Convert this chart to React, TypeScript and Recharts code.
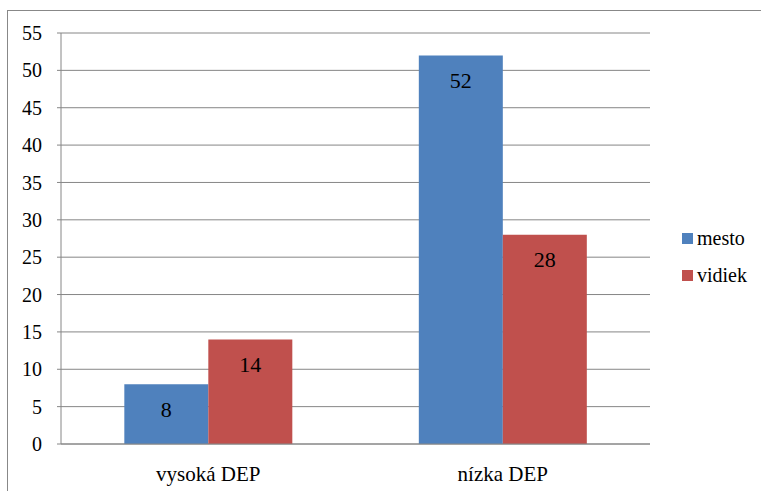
import React from "react";
import { BarChart, Bar, XAxis, YAxis, CartesianGrid, LabelList } from "recharts";

const categories = ["vysoká DEP", "nízka DEP"];
const mesto = [8, 52];
const vidiek = [14, 28];
const yTicks = [0, 5, 10, 15, 20, 25, 30, 35, 40, 45, 50, 55];
const seriesNames = ["mesto", "vidiek"];

const data = categories.map((c, i) => ({ name: c, mesto: mesto[i], vidiek: vidiek[i] }));

const FONT = "Liberation Serif, DejaVu Serif, Tinos, Times New Roman, serif";
const BLUE = "#4F81BD";
const RED = "#C0504D";
const COLORS = [BLUE, RED];

const ValueLabel = (props: any) => {
  const { x, y, width, value } = props;
  return (
    <text
      x={x + width / 2}
      y={y + 25}
      textAnchor="middle"
      dominantBaseline="central"
      style={{ fontFamily: FONT }}
      fontSize={22}
      fill="#000"
    >
      {value}
    </text>
  );
};

export default function App() {
  return (
    <div style={{ position: "relative", width: 761, height: 491, overflow: "hidden", background: "#fff", fontFamily: FONT }}>
      <style>{`body{margin:0}`}</style>
      <div
        style={{
          position: "absolute",
          left: 7,
          top: 10,
          width: 900,
          height: 700,
          border: "1px solid #888",
          boxSizing: "border-box",
        }}
      />
      <div style={{ position: "absolute", left: 0, top: 0 }}>
        <BarChart
          width={761}
          height={491}
          data={data}
          margin={{ top: 33, right: 111, bottom: 0, left: 0 }}
          barCategoryGap="21.5%"
          barGap={0}
          style={{ fontFamily: FONT }}
        >
          <CartesianGrid vertical={false} stroke="#868686" strokeWidth={1} />
          <XAxis
            dataKey="name"
            height={47}
            tickSize={0}
            tickMargin={22}
            axisLine={{ stroke: "#868686" }}
            tick={{ fontSize: 21, fill: "#000", style: { fontFamily: FONT } }}
          />
          <YAxis
            width={61}
            domain={[0, 55]}
            ticks={yTicks}
            interval={0}
            tickSize={4}
            tickMargin={15}
            axisLine={{ stroke: "#868686" }}
            tickLine={{ stroke: "#868686" }}
            tick={{ fontSize: 20, fill: "#000", style: { fontFamily: FONT } }}
          />
          <Bar dataKey="mesto" name={seriesNames[0]} fill={BLUE} isAnimationActive={false}>
            <LabelList dataKey="mesto" content={<ValueLabel />} />
          </Bar>
          <Bar dataKey="vidiek" name={seriesNames[1]} fill={RED} isAnimationActive={false}>
            <LabelList dataKey="vidiek" content={<ValueLabel />} />
          </Bar>
        </BarChart>
      </div>
      <div style={{ position: "absolute", left: 682, top: 220, fontSize: 20, color: "#000" }}>
        {seriesNames.map((n, i) => (
          <div key={n} style={{ display: "flex", alignItems: "center", height: 37 }}>
            <span style={{ display: "inline-block", width: 11, height: 11, background: COLORS[i], marginRight: 4 }} />
            <span>{n}</span>
          </div>
        ))}
      </div>
    </div>
  );
}
